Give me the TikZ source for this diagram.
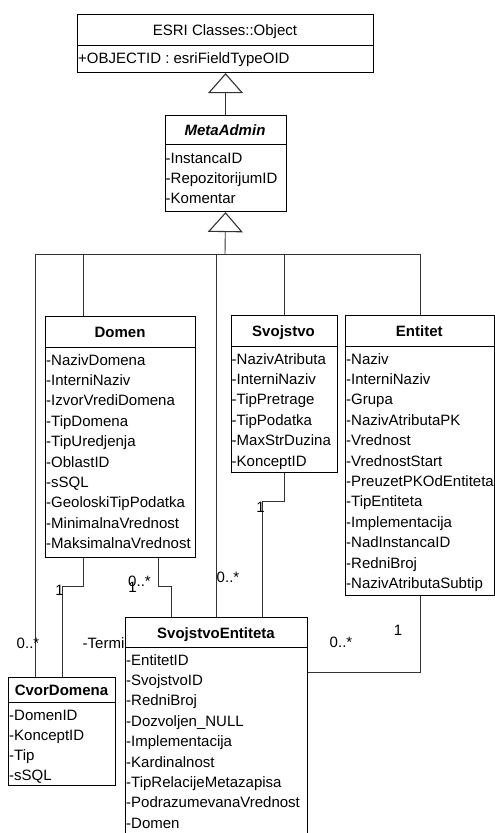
\documentclass[tikz,border=0pt]{standalone}
\usepackage{fontspec}
\setmainfont{Liberation Sans}
\usetikzlibrary{arrows.meta}
\newcommand\attrlist[5]{%
  \foreach \t [count=\i from 0] in {#5} {\node[attr] (#1\i) at ({#2},{#3+#4*\i}) {\t};}}
\begin{document}
\begin{tikzpicture}[x=1pt,y=-1pt,
  box/.style={draw=black,line width=1.1pt,fill=white,rectangle,inner sep=0pt,anchor=north west},
  ttl/.style={font=\fontsize{15}{18}\selectfont\bfseries,anchor=base,inner sep=0pt},
  attr/.style={font=\fontsize{15}{18}\selectfont,anchor=base west,inner sep=0pt},
  lbl/.style={font=\fontsize{15}{18}\selectfont,inner sep=0pt},
  conn/.style={draw=black!80,line width=0.9pt},
  gen/.style={conn,-{Triangle[open,length=20pt,width=35pt,line width=1.1pt]}}
]
\clip (0,0) rectangle (495,833);
\fill[white] (0,0) rectangle (495,833);

% ---- boxes ----
\node[box,minimum width=296pt,minimum height=31pt] (obj-t) at (77,14) {};
\node[box,minimum width=296pt,minimum height=27pt] (obj-a) at (77,45) {};
\node[ttl,font=\fontsize{15}{18}\selectfont] (obj-n) at (225,35) {ESRI Classes::Object};
\attrlist{obja}{78}{63}{20}{+OBJECTID : esriFieldTypeOID}

\node[box,minimum width=121pt,minimum height=29pt] (meta-t) at (164.5,115) {};
\node[box,minimum width=121pt,minimum height=67pt] (meta-a) at (164.5,144) {};
\node[ttl,font=\fontsize{15}{18}\selectfont\bfseries\itshape] (meta-n) at (225,135) {MetaAdmin};
\attrlist{metaa}{165.5}{163}{20}{-InstancaID,-RepozitorijumID,-Komentar}

\node[box,minimum width=150pt,minimum height=31pt] (dom-t) at (45,316) {};
\node[box,minimum width=150pt,minimum height=210pt] (dom-a) at (45,347) {};
\node[ttl] (dom-n) at (120,337) {Domen};
\attrlist{doma}{46}{365}{20.4}{-NazivDomena,-InterniNaziv,-IzvorVrediDomena,-TipDomena,-TipUredjenja,-OblastID,-sSQL,-GeoloskiTipPodatka,-MinimalnaVrednost,-MaksimalnaVrednost}

\node[box,minimum width=106pt,minimum height=31pt] (svo-t) at (230.5,315) {};
\node[box,minimum width=106pt,minimum height=126pt] (svo-a) at (230.5,346) {};
\node[ttl] (svo-n) at (283.5,336) {Svojstvo};
\attrlist{svoa}{231.5}{364}{20.4}{-NazivAtributa,-InterniNaziv,-TipPretrage,-TipPodatka,-MaxStrDuzina,-KonceptID}

\node[box,minimum width=148.5pt,minimum height=31pt] (ent-t) at (345,315) {};
\node[box,minimum width=148.5pt,minimum height=249pt] (ent-a) at (345,346) {};
\node[ttl] (ent-n) at (419.25,336) {Entitet};
\attrlist{enta}{346}{364}{20.4}{-Naziv,-InterniNaziv,-Grupa,-NazivAtributaPK,-Vrednost,-VrednostStart,-PreuzetPKOdEntiteta,-TipEntiteta,-Implementacija,-NadInstancaID,-RedniBroj,-NazivAtributaSubtip}

\node[box,minimum width=182pt,minimum height=30pt] (sve-t) at (125,617) {};
\node[box,minimum width=182pt,minimum height=203pt] (sve-a) at (125,647) {};
\node[ttl] (sve-n) at (216,638) {SvojstvoEntiteta};
\attrlist{svea}{126}{665}{20.4}{-EntitetID,-SvojstvoID,-RedniBroj,-Dozvoljen\_NULL,-Implementacija,-Kardinalnost,-TipRelacijeMetazapisa,-PodrazumevanaVrednost,-Domen}

\node[box,minimum width=107pt,minimum height=25pt] (cvor-t) at (8,677) {};
\node[box,minimum width=107pt,minimum height=83pt] (cvor-a) at (8,702) {};
\node[ttl] (cvor-n) at (61.5,695) {CvorDomena};
\attrlist{cvora}{9}{720}{20}{-DomenID,-KonceptID,-Tip,-sSQL}

% ---- generalizations ----
\draw[gen] (meta-t.north) -- (obj-a.south);
\coordinate (bus) at (225,254);
\draw[gen] (bus) -- (meta-a.south);
\draw[conn] ([xshift=-26.5pt]cvor-t.north) |- (bus);
\draw[conn] ([xshift=-37pt]dom-t.north) |- (bus);
\draw[conn] (sve-t.north) |- (bus);
\draw[conn] (svo-t.north) |- (bus);
\draw[conn] ([xshift=0.75pt]ent-t.north) |- (bus);

% ---- associations ----
\draw[conn] ([xshift=-37pt]dom-a.south) -- ++(0,28) -| ([xshift=0.5pt]cvor-t.north);
\draw[conn] ([xshift=38pt]dom-a.south) -- ++(0,28) -| ([xshift=-45pt]sve-t.north);
\draw[conn] (svo-a.south) -- ++(0,28) -| ([xshift=46pt]sve-t.north);
\draw[conn] ([xshift=0.75pt]ent-a.south) |- ([yshift=-25pt]sve-a.north east);

% ---- labels ----
\node[lbl] (m1) at (59.5,590) {1};
\node[lbl] (m2) at (28,643) {0..*};
\node[lbl] (m3) at (103.5,643) {-Termi};
\node[lbl] (m4) at (139.5,581) {0..*};
\node[lbl] (m5) at (132.5,587) {1};
\node[lbl] (m6) at (260.5,507) {1};
\node[lbl] (m7) at (228,577) {0..*};
\node[lbl] (m8) at (398,630) {1};
\node[lbl] (m9) at (341,642) {0..*};
\end{tikzpicture}
\end{document}
